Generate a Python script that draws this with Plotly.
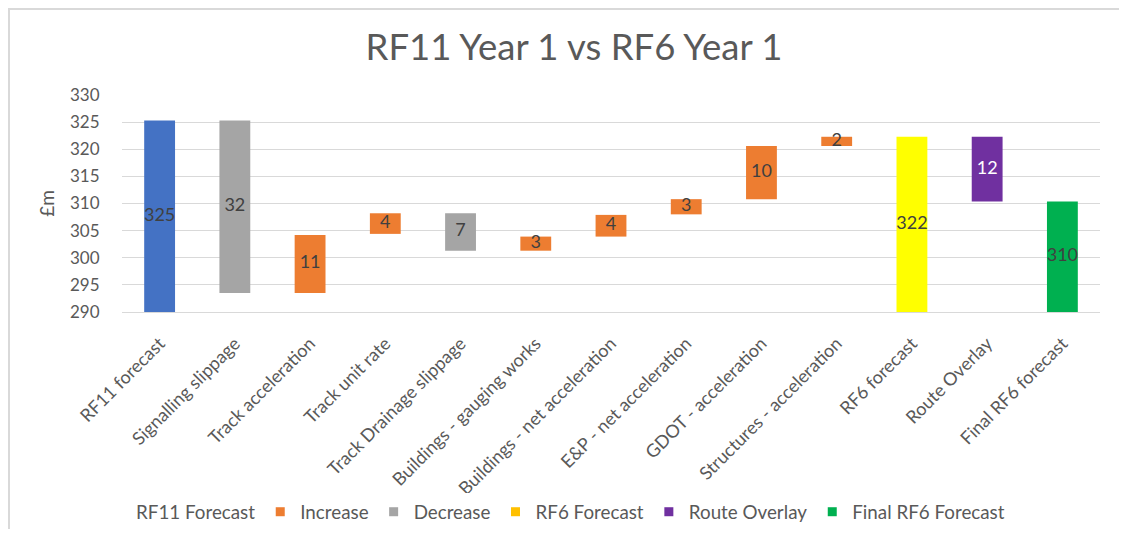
import plotly.graph_objects as go

# ---- data ----
categories = [
    "RF11 forecast", "Signalling slippage", "Track acceleration", "Track unit rate",
    "Track Drainage slippage", "Buildings - gauging works", "Buildings - net acceleration",
    "E&P - net acceleration", "GDOT - acceleration", "Structures - acceleration",
    "RF6 forecast", "Route Overlay", "Final RF6 forecast",
]
bar_bottom = [290, 293.5, 293.5, 304.4, 301.3, 301.3, 303.9, 308.0, 310.8, 320.6, 290, 310.35, 290]
bar_top = [325.3, 325.3, 304.2, 308.2, 308.2, 303.9, 307.9, 310.8, 320.6, 322.3, 322.3, 322.3, 310.35]
bar_labels = ["325", "32", "11", "4", "7", "3", "4", "3", "10", "2", "322", "12", "310"]
bar_kind = ["RF11 Forecast", "Decrease", "Increase", "Increase", "Decrease", "Increase",
            "Increase", "Increase", "Increase", "Increase", "RF6 Forecast", "Route Overlay",
            "Final RF6 Forecast"]
legend_names = ["RF11 Forecast", "Increase", "Decrease", "RF6 Forecast", "Route Overlay", "Final RF6 Forecast"]

# ---- styles ----
bar_colors = {"RF11 Forecast": "#4472C4", "Increase": "#ED7D31", "Decrease": "#A5A5A5",
              "RF6 Forecast": "#FFFF00", "Route Overlay": "#7030A0", "Final RF6 Forecast": "#00B050"}
legend_colors = {"RF11 Forecast": "rgba(0,0,0,0)", "Increase": "#ED7D31", "Decrease": "#A5A5A5",
                 "RF6 Forecast": "#FFC000", "Route Overlay": "#7030A0", "Final RF6 Forecast": "#00B050"}
label_colors = {"Route Overlay": "#FFFFFF"}
FONT = "Lato"
GREY = "#595959"

fig = go.Figure()

for kind in legend_names:
    idx = [i for i, k in enumerate(bar_kind) if k == kind]
    fig.add_trace(go.Bar(
        x=[categories[i] for i in idx],
        y=[bar_top[i] - bar_bottom[i] for i in idx],
        base=[bar_bottom[i] for i in idx],
        marker=dict(color=bar_colors[kind], line=dict(width=0)),
        showlegend=False, hoverinfo="skip",
    ))

for kind in legend_names:
    fig.add_trace(go.Scatter(
        x=[None], y=[None], name=kind, mode="markers",
        marker=dict(symbol="square", size=9, color=legend_colors[kind], line=dict(width=0)),
        showlegend=True,
    ))

fig.add_trace(go.Scatter(
    x=categories,
    y=[(b + t) / 2 for b, t in zip(bar_bottom, bar_top)],
    mode="text", text=bar_labels,
    textfont=dict(family=FONT, size=18, color=[label_colors.get(k, "#404040") for k in bar_kind]),
    showlegend=False, hoverinfo="skip", cliponaxis=False,
))

# figure is placed at (8, 8) in the page by the default body margin
W, H = 1111, 521
L, R, T, B = 114, 19, 87, 217
pw, ph = W - L - R, H - T - B

def px_x(p):
    return (p - L) / pw

def px_y(p):
    return (H - B - p) / ph

fig.update_layout(
    width=W, height=H,
    margin=dict(l=L, r=R, t=T, b=B, autoexpand=False),
    barmode="overlay", bargap=0.59,
    plot_bgcolor="white", paper_bgcolor="white",
    font=dict(family=FONT, color=GREY),
    title=dict(text="RF11 Year 1 vs RF6 Year 1", x=566 / W, xanchor="center",
               y=1 - 39 / H, yanchor="middle",
               font=dict(family=FONT, size=36.5, color=GREY)),
    xaxis=dict(categoryorder="array", categoryarray=categories,
               range=[-0.5, len(categories) - 0.5],
               tickangle=-45, tickfont=dict(family=FONT, size=18, color=GREY),
               showline=True, linecolor="#D9D9D9", linewidth=1,
               ticks="outside", ticklen=13, tickcolor="rgba(0,0,0,0)",
               automargin=False, showgrid=False),
    yaxis=dict(range=[290, 330], dtick=5, tickfont=dict(family=FONT, size=17, color=GREY),
               gridcolor="#D9D9D9", gridwidth=1, zeroline=False, showline=False,
               ticks="outside", ticklen=18, tickcolor="rgba(0,0,0,0)", automargin=False,
               title=dict(text="£m", font=dict(family=FONT, size=19, color=GREY), standoff=10)),
    legend=dict(orientation="h", xref="container", yref="container",
                x=545 / W, xanchor="center", y=1 - 504 / H, yanchor="middle",
                font=dict(family=FONT, size=18.8, color=GREY), itemwidth=30,
                traceorder="normal"),
    shapes=[
        dict(type="line", xref="paper", yref="paper", x0=px_x(0), x1=px_x(W), y0=px_y(1), y1=px_y(1),
             line=dict(color="#D9D9D9", width=2)),
        dict(type="line", xref="paper", yref="paper", x0=px_x(1), x1=px_x(1), y0=px_y(0), y1=px_y(H),
             line=dict(color="#D9D9D9", width=2)),
    ],
)

fig.write_html("out.html")
